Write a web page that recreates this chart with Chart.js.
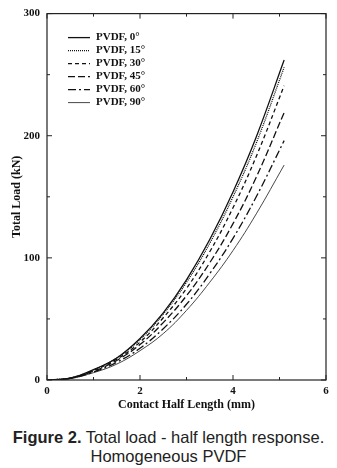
<!DOCTYPE html>
<html>
<head>
<meta charset="utf-8">
<script src="https://cdn.jsdelivr.net/npm/chart.js@4.4.1/dist/chart.umd.min.js"></script>
<style>
  body { margin: 0; background: #fff; width: 337px; height: 468px; overflow: hidden; }
  #wrap { position: relative; width: 337px; height: 420px; }
  .caption {
    position: absolute; left: 0; width: 337px; text-align: center;
    font-family: "Liberation Sans", Arial, sans-serif; font-size: 16.5px; line-height: 19px; color: #222;
  }
  .caption b { font-weight: bold; }
</style>
</head>
<body>
<div id="wrap"><canvas id="loadChart" width="337" height="420"></canvas></div>
<div class="caption" style="top:428px"><b>Figure 2.</b> Total load - half length response.</div>
<div class="caption" style="top:447px">Homogeneous PVDF</div>
<script>
// contact half length (mm)
const halfLength = [0, 0.5, 1, 1.5, 2, 2.5, 3, 3.5, 4, 4.5, 5.1];

// total load (kN)
const load0  = [0, 1.6, 8.5, 18, 34, 55, 82, 115, 154, 199, 262];
const load15 = [0, 1.6, 8.3, 18, 33, 54, 80, 112, 150, 194, 256];
const load30 = [0, 1.5, 7.8, 17, 31, 51, 75, 105, 141, 183, 241];
const load45 = [0, 1.4, 7.2, 16, 29, 47, 69, 96, 128, 166, 219];
const load60 = [0, 1.3, 6.5, 14.5, 26, 42, 62, 87, 116, 150, 196];
const load90 = [0, 1.2, 6, 13, 24, 38, 57, 80, 106, 136, 176];

const seriesLabels = ['PVDF, 0°', 'PVDF, 15°', 'PVDF, 30°', 'PVDF, 45°', 'PVDF, 60°', 'PVDF, 90°'];
const xTicks = [0, 2, 4, 6];
const yTicks = [0, 100, 200, 300];

const serif = '"Liberation Serif", "Times New Roman", serif';

const styles = [
  { w: 1.3, dash: [] },
  { w: 1.3, dash: [1, 1] },
  { w: 1.3, dash: [4, 3] },
  { w: 1.3, dash: [7, 3] },
  { w: 1.3, dash: [8, 3, 2, 3] },
  { w: 0.9, dash: [] }
];

const allLoads = [load0, load15, load30, load45, load60, load90];
const datasets = allLoads.map((vals, i) => ({
  label: seriesLabels[i],
  data: vals.map((v, j) => ({ x: halfLength[j], y: v })),
  borderColor: i === 5 ? '#333' : '#111',
  borderWidth: styles[i].w,
  borderDash: styles[i].dash,
  pointRadius: 0,
  tension: 0.4,
  fill: false
}));

// box, inward ticks on all four sides, and the legend inside the plot
const framePlugin = {
  id: 'frame',
  afterDraw(chart) {
    const ctx = chart.ctx;
    const a = chart.chartArea;
    const xs = chart.scales.x, ys = chart.scales.y;
    ctx.save();
    ctx.strokeStyle = '#222';
    ctx.lineWidth = 1.2;
    ctx.setLineDash([]);
    ctx.strokeRect(a.left, a.top, a.right - a.left, a.bottom - a.top);
    ctx.lineWidth = 1;
    for (let v = 0; v <= 6; v += 1) {
      const px = xs.getPixelForValue(v);
      const len = v % 2 === 0 ? 5 : 3;
      ctx.beginPath();
      ctx.moveTo(px, a.bottom); ctx.lineTo(px, a.bottom - len);
      ctx.moveTo(px, a.top); ctx.lineTo(px, a.top + len);
      ctx.stroke();
    }
    for (let v = 0; v <= 300; v += 50) {
      const py = ys.getPixelForValue(v);
      const len = v % 100 === 0 ? 5 : 3;
      ctx.beginPath();
      ctx.moveTo(a.left, py); ctx.lineTo(a.left + len, py);
      ctx.moveTo(a.right, py); ctx.lineTo(a.right - len, py);
      ctx.stroke();
    }
    // legend
    ctx.font = 'bold 11px ' + serif;
    ctx.textBaseline = 'middle';
    ctx.fillStyle = '#111';
    chart.data.datasets.forEach((ds, i) => {
      const y = a.top + 24 + i * 13;
      ctx.beginPath();
      ctx.lineWidth = ds.borderWidth;
      ctx.strokeStyle = ds.borderColor;
      ctx.setLineDash(ds.borderDash);
      ctx.moveTo(68, y); ctx.lineTo(90, y);
      ctx.stroke();
      ctx.fillText(ds.label, 96, y);
    });
    ctx.restore();
  }
};

new Chart(document.getElementById('loadChart'), {
  type: 'line',
  data: { datasets },
  options: {
    responsive: false,
    devicePixelRatio: 1,
    animation: false,
    layout: { padding: { top: 10, right: 11, left: 0, bottom: 0 } },
    plugins: { legend: { display: false }, tooltip: { enabled: false } },
    scales: {
      x: {
        type: 'linear', min: 0, max: 6,
        afterBuildTicks: s => { s.ticks = xTicks.map(v => ({ value: v })); },
        afterFit: s => { s.height = 40; },
        grid: { display: false, drawTicks: false },
        border: { display: false },
        ticks: { color: '#111', padding: 5, font: { family: serif, size: 11, weight: 'bold' } },
        title: {
          display: true, text: 'Contact Half Length (mm)', color: '#111',
          padding: { top: 0, bottom: 8 },
          font: { family: serif, size: 12, weight: 'bold' }
        }
      },
      y: {
        type: 'linear', min: 0, max: 300,
        afterBuildTicks: s => { s.ticks = yTicks.map(v => ({ value: v })); },
        afterFit: s => { s.width = 47; },
        grid: { display: false, drawTicks: false },
        border: { display: false },
        ticks: { color: '#111', padding: 7, font: { family: serif, size: 11, weight: 'bold' } },
        title: {
          display: true, text: 'Total Load (kN)', color: '#111',
          padding: { top: 10, bottom: 0 },
          font: { family: serif, size: 12, weight: 'bold' }
        }
      }
    }
  },
  plugins: [framePlugin]
});
</script>
</body>
</html>
